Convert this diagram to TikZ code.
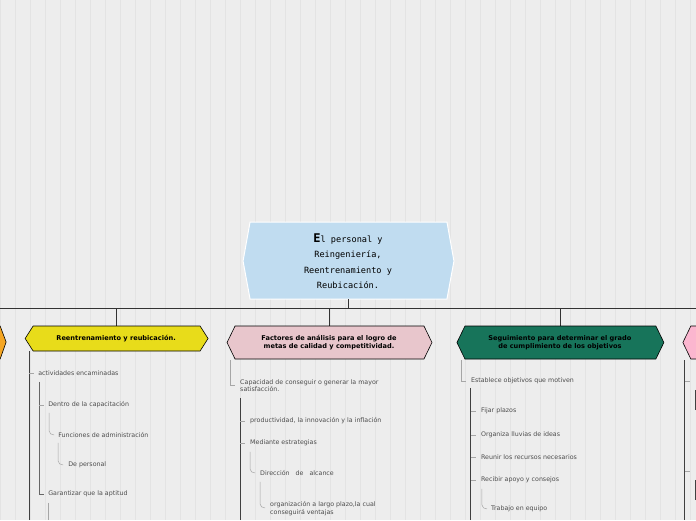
\documentclass[tikz,border=0pt]{standalone}
\usepackage{fontspec}
\setmainfont{DejaVu Sans}
\newfontfamily\monof{DejaVu Sans Mono}
\begin{document}
\begin{tikzpicture}[x=1pt,y=-1pt,
  txt/.style={anchor=west,inner sep=0pt,text=black!70,font=\fontsize{6.3}{7.6}\selectfont,align=left},
  ttl/.style={inner sep=0pt,font=\bfseries\fontsize{6.6}{8}\selectfont,align=center},
  hx/.style={draw=black,line width=0.6pt},
  ln/.style={draw=black!60,line width=0.5pt},
  dk/.style={draw=black!75,line width=1pt},
  tk/.style={draw=black!35,line width=0.5pt}]
\fill[black!7] (0,0) rectangle (696,520);
\draw[black!11,line width=0.3pt,step=15] (0,0) grid (696,520);
\useasboundingbox (0,0) rectangle (696,520);
% title
\fill[fill={rgb,255:red,192;green,220;blue,240},draw=white,line width=1pt] (250,222)--(447,222)--(454,261)--(447,299)--(250,299)--(243,261)--cycle;
\node[inner sep=0pt,font=\monof\fontsize{8.6}{15.4}\selectfont,align=center] (title) at (348,261) {{\bfseries\large E}l personal y\\Reingeniería,\\Reentrenamiento y\\Reubicación.};
\draw[ln,draw=black!80] (0,308)--(696,308);
\draw[ln,draw=black!80] (348,299)--(348,308);
\foreach \x in {116,329,560} \draw[ln,draw=black!80] (\x,308)--(\x,326);
% boxes
\fill[hx,fill={rgb,255:red,245;green,166;blue,35}] (-10,326)--(0,326)--(6,342)--(0,359)--(-10,359)--cycle;
\fill[hx,fill={rgb,255:red,232;green,220;blue,26}] (33,326)--(200,326)--(208,338.5)--(200,351)--(33,351)--(25,338.5)--cycle;
\node[ttl] (b1) at (116,338.5) {Reentrenamiento y reubicación.};
\fill[hx,fill={rgb,255:red,232;green,198;blue,204}] (235,326)--(424,326)--(432,342.5)--(424,359)--(235,359)--(227,342.5)--cycle;
\node[ttl] (b2) at (329,342.5) {Factores de análisis para el logro de\\metas de calidad y competitividad.};
\fill[hx,fill={rgb,255:red,23;green,116;blue,90}] (465,326)--(656,326)--(664,342.5)--(656,359)--(465,359)--(457,342.5)--cycle;
\node[ttl] (b3) at (560,342.5) {Seguimiento para determinar el grado\\de cumplimiento de los objetivos};
\fill[hx,fill={rgb,255:red,251;green,182;blue,207}] (700,326)--(691,326)--(683,342.5)--(691,359)--(700,359)--cycle;
% yellow branch
\draw[dk] (29,351)--(29,520);
\node[txt] (y1) at (38,373) {actividades encaminadas};
\draw[tk] (29,373)--(34,373);
\draw[ln] (39,382)--(39,494)--(44,494);
\draw[tk] (39,405)--(44,405);
\node[txt] (y2) at (48,405) {Dentro de la capacitación};
\draw[tk] (49,413)--(49,431) to[out=-90,in=180] (54,435);
\node[txt] (y3) at (58,435) {Funciones de administración};
\draw[tk] (58,443)--(58,461) to[out=-90,in=180] (63,465);
\node[txt] (y4) at (68,465) {De personal};
\node[txt] (y5) at (48,494) {Garantizar que la aptitud};
\draw[tk] (48,503)--(48,520);
% pink branch
\draw[tk] (230,360)--(230,385) -- (235,385);
\node[txt] (p1) at (240,385.5) {Capacidad de conseguir o generar la mayor\\satisfacción.};
\draw[dk] (240,398)--(240,520);
\draw[tk] (240,421)--(245,421);
\node[txt] (p2) at (250,421) {productividad, la innovación y la inflación};
\draw[tk] (240,443)--(245,443);
\node[txt] (p3) at (250,443) {Mediante estrategias};
\draw[tk] (250,452)--(250,469) to[out=-90,in=180] (255,473);
\node[txt] (p4) at (260,473) {Dirección\ \ \ de\ \ \ alcance};
\draw[tk] (260,482)--(260,504) to[out=-90,in=180] (265,508);
\node[txt] (p5) at (270,508.5) {organización a largo plazo,la cual\\conseguirá ventajas};
% green branch
\draw[tk] (461,360)--(461,381)--(466,381);
\node[txt] (g1) at (471,381) {Establece objetivos que motiven};
\draw[dk] (471,388)--(471,520);
\foreach \yy/\t in {411/Fijar plazos,435/Organiza lluvias de ideas,457/Reunir los recursos necesarios,480/Recibir apoyo y consejos}{
  \draw[tk] (471,\yy)--(476,\yy);
  \node[txt] at (481,\yy) {\t};}
\draw[tk] (482,489)--(482,505) to[out=-90,in=180] (487,509);
\node[txt] (g2) at (491,509) {Trabajo en equipo};
% right partial
\draw[dk] (685,360)--(685,520);
\draw[tk] (685,381)--(690,381);
\draw[tk] (685,471)--(690,471);
\draw[dk] (696,390)--(696,410);
\draw[dk] (696,480)--(696,500);
\end{tikzpicture}
\end{document}
